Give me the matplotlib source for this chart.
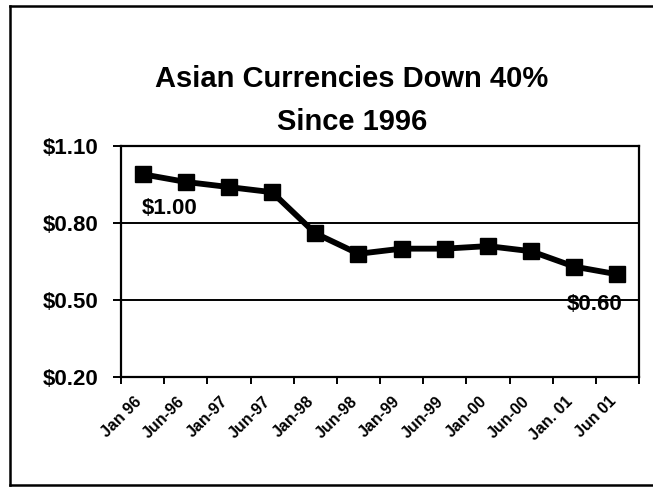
import matplotlib
matplotlib.use("Agg")
import matplotlib.pyplot as plt
from matplotlib.lines import Line2D
from matplotlib.transforms import ScaledTranslation

plt.rcParams["font.family"] = ["Liberation Sans", "DejaVu Sans"]
plt.rcParams["font.weight"] = "bold"

# data (US$ per unit, indexed to $1.00)
months = ["Jan 96", "Jun-96", "Jan-97", "Jun-97", "Jan-98", "Jun-98",
          "Jan-99", "Jun-99", "Jan-00", "Jun-00", "Jan. 01", "Jun 01"]
rates = [0.99, 0.96, 0.94, 0.92, 0.76, 0.68, 0.70, 0.70, 0.71, 0.69, 0.63, 0.60]
ytick_vals = [0.20, 0.50, 0.80, 1.10]
ytick_labels = [r"\$0.20", r"\$0.50", r"\$0.80", r"\$1.10"]
grid_vals = [0.50, 0.80]

W, H = 653, 491
fig = plt.figure(figsize=(W / 100, H / 100), dpi=100)

# outer frame (right side runs off the scan)
frame = dict(color="black", linewidth=1.8, transform=fig.transFigure)
fig.add_artist(Line2D([10 / W, 10 / W], [1 - 6 / H, 1 - 485 / H], **frame))
fig.add_artist(Line2D([10 / W, 1.0], [1 - 6 / H, 1 - 6 / H], **frame))
fig.add_artist(Line2D([10 / W, 1.0], [1 - 485 / H, 1 - 485 / H], **frame))

fig.text(352 / W, 1 - 79 / H, "Asian Currencies Down 40%", ha="center", va="center",
         fontsize=21, fontweight="bold")
fig.text(352 / W, 1 - 122 / H, "Since 1996", ha="center", va="center",
         fontsize=21, fontweight="bold")

left, right, top, bottom = 121, 639, 146, 377
ax = fig.add_axes([left / W, 1 - bottom / H, (right - left) / W, (bottom - top) / H])

x = list(range(len(months)))
ax.plot(x, rates, color="black", linewidth=4.2, marker="s", markersize=12,
        solid_joinstyle="miter", zorder=3)

for g in grid_vals:
    ax.axhline(g, color="black", linewidth=1.4, zorder=1)

ax.set_xlim(-0.5, len(months) - 0.5)
ax.set_ylim(ytick_vals[0], ytick_vals[-1])
ax.set_yticks(ytick_vals, ytick_labels)
ax.tick_params(axis="y", length=6, width=1.4, pad=10, labelsize=16)

ax.set_xticks([i - 0.5 for i in range(len(months) + 1)], [""] * (len(months) + 1))
ax.set_xticks(x, months, minor=True)
ax.tick_params(axis="x", which="major", length=5, width=1.4)
ax.tick_params(axis="x", which="minor", length=0, pad=12, labelsize=11.5)
shift = ScaledTranslation(-9 / 100, 0, fig.dpi_scale_trans)
for lbl in ax.get_xticklabels(minor=True):
    lbl.set_rotation(45)
    lbl.set_ha("right")
    lbl.set_rotation_mode("anchor")
    lbl.set_fontweight("bold")
    lbl.set_transform(lbl.get_transform() + shift)
for lbl in ax.get_yticklabels():
    lbl.set_fontweight("bold")

for s in ax.spines.values():
    s.set_linewidth(1.6)

ax.text(x[0] + 0.62, 0.858, r"\$1.00", ha="center", va="center",
        fontsize=16, fontweight="bold")
ax.text(x[-1] - 0.52, 0.484, r"\$0.60", ha="center", va="center",
        fontsize=16, fontweight="bold")

fig.savefig("out.png", dpi=100)
